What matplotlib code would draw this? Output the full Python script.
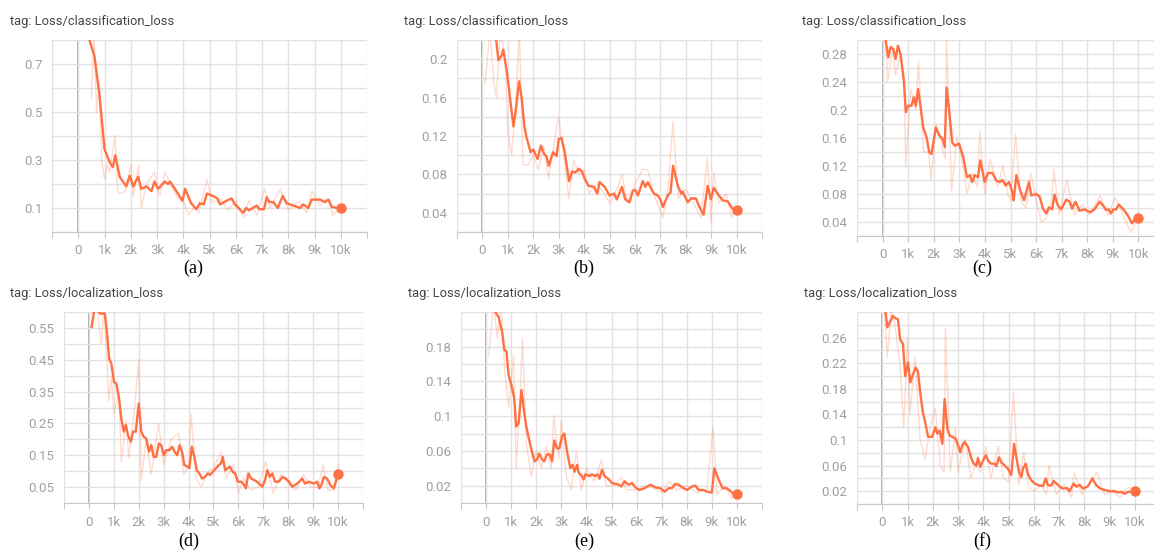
import matplotlib.pyplot as plt

ORANGE = '#ff7043'

# ---- (a) classification loss ----
a_x = [430, 620, 750, 810, 1000, 1200, 1320, 1410, 1580, 1830, 1960, 2090, 2280, 2400, 2600, 2790,
       2900, 3040, 3300, 3420, 3500, 3740, 3970, 4070, 4300, 4500, 4630, 4780, 4900, 5140, 5300,
       5400, 5650, 5840, 5970, 6280, 6400, 6500, 6800, 6900, 7080, 7180, 7280, 7430, 7600, 7790,
       7940, 8200, 8450, 8570, 8770, 8890, 9210, 9400, 9530, 9660, 9850, 10000]
a_y = [0.80, 0.73, 0.62, 0.57, 0.345, 0.29, 0.27, 0.32, 0.23, 0.19, 0.235, 0.19, 0.23, 0.18, 0.19,
       0.17, 0.21, 0.18, 0.21, 0.20, 0.21, 0.17, 0.13, 0.18, 0.12, 0.095, 0.12, 0.115, 0.16, 0.15,
       0.14, 0.115, 0.13, 0.14, 0.115, 0.08, 0.10, 0.09, 0.11, 0.095, 0.095, 0.145, 0.125, 0.125,
       0.10, 0.15, 0.12, 0.11, 0.10, 0.115, 0.10, 0.135, 0.135, 0.125, 0.135, 0.105, 0.10, 0.10]
a_raw_x = [500, 600, 700, 800, 900, 1000, 1100, 1200, 1400, 1500, 1600, 1800, 2000, 2100, 2300,
           2400, 2600, 2900, 3100, 3300, 3600, 3800, 4000, 4200, 4400, 4600, 4900, 5100, 5400,
           5700, 6000, 6300, 6500, 6800, 7100, 7300, 7700, 8000, 8400, 8700, 8900, 9200, 9500,
           9700, 10000]
a_raw_y = [0.56, 0.82, 0.50, 0.62, 0.30, 0.22, 0.28, 0.25, 0.40, 0.17, 0.16, 0.17, 0.28, 0.15,
           0.28, 0.10, 0.20, 0.25, 0.15, 0.25, 0.18, 0.14, 0.13, 0.07, 0.10, 0.08, 0.22, 0.12,
           0.14, 0.09, 0.13, 0.06, 0.13, 0.07, 0.18, 0.10, 0.18, 0.09, 0.13, 0.08, 0.17, 0.11,
           0.14, 0.07, 0.10]

# ---- (b) classification loss ----
b_x = [540, 630, 760, 820, 950, 1050, 1220, 1320, 1440, 1540, 1650, 1740, 1900, 2000, 2170, 2300,
       2430, 2520, 2610, 2780, 2920, 3000, 3110, 3240, 3410, 3530, 3660, 3790, 3920, 4030, 4180,
       4390, 4520, 4610, 4810, 5000, 5180, 5290, 5490, 5620, 5790, 5920, 6010, 6120, 6310, 6410,
       6510, 6640, 6750, 6900, 7000, 7100, 7290, 7400, 7500, 7690, 7820, 7880, 8080, 8210, 8400,
       8540, 8700, 8860, 8990, 9100, 9250, 9450, 9650, 9840, 10000]
b_y = [0.22, 0.199, 0.204, 0.21, 0.189, 0.168, 0.13, 0.148, 0.177, 0.161, 0.13, 0.118, 0.103,
       0.106, 0.096, 0.11, 0.101, 0.099, 0.089, 0.103, 0.099, 0.117, 0.118, 0.103, 0.073, 0.083,
       0.082, 0.086, 0.083, 0.075, 0.068, 0.067, 0.060, 0.072, 0.067, 0.058, 0.060, 0.054, 0.067,
       0.054, 0.051, 0.063, 0.064, 0.058, 0.073, 0.067, 0.072, 0.065, 0.060, 0.058, 0.054, 0.046,
       0.058, 0.061, 0.089, 0.068, 0.060, 0.062, 0.051, 0.055, 0.055, 0.046, 0.038, 0.068, 0.054,
       0.066, 0.060, 0.053, 0.052, 0.044, 0.043]
b_raw_x = [100, 300, 450, 550, 700, 900, 1000, 1150, 1300, 1450, 1600, 1800, 2000, 2200, 2400,
           2600, 2800, 3000, 3200, 3400, 3600, 3800, 4000, 4200, 4500, 4800, 5000, 5300, 5500,
           5700, 6000, 6300, 6500, 6800, 7100, 7300, 7500, 7700, 8000, 8300, 8600, 8850, 9000,
           9100, 9300, 9600, 9800, 10000]
b_raw_y = [0.175, 0.23, 0.175, 0.16, 0.23, 0.20, 0.125, 0.10, 0.15, 0.23, 0.09, 0.09, 0.10, 0.085,
           0.11, 0.075, 0.11, 0.14, 0.10, 0.055, 0.095, 0.08, 0.085, 0.06, 0.07, 0.06, 0.05, 0.065,
           0.08, 0.05, 0.07, 0.085, 0.085, 0.055, 0.035, 0.065, 0.135, 0.055, 0.065, 0.05, 0.035,
           0.097, 0.03, 0.082, 0.05, 0.06, 0.035, 0.045]

# ---- (c) classification loss ----
c_x = [120, 220, 310, 420, 510, 600, 700, 830, 910, 1000, 1130, 1220, 1300, 1390, 1590, 1720,
       1820, 1910, 2080, 2210, 2340, 2430, 2500, 2590, 2720, 2820, 2990, 3150, 3300, 3410, 3510,
       3600, 3730, 3820, 3990, 4120, 4290, 4450, 4580, 4680, 4810, 4940, 5070, 5120, 5230, 5380,
       5530, 5720, 5810, 6010, 6140, 6270, 6400, 6500, 6630, 6720, 6850, 6980, 7180, 7310, 7410,
       7540, 7700, 7890, 8110, 8280, 8480, 8610, 8740, 8840, 8930, 9020, 9130, 9230, 9390, 9540,
       9650, 9750, 9870, 10000]
c_y = [0.30, 0.275, 0.29, 0.287, 0.273, 0.292, 0.28, 0.242, 0.197, 0.206, 0.206, 0.218, 0.206,
       0.23, 0.175, 0.161, 0.14, 0.137, 0.175, 0.164, 0.159, 0.147, 0.232, 0.204, 0.154, 0.149,
       0.152, 0.133, 0.104, 0.107, 0.097, 0.107, 0.104, 0.128, 0.097, 0.11, 0.11, 0.099, 0.097,
       0.10, 0.092, 0.097, 0.083, 0.071, 0.107, 0.085, 0.071, 0.097, 0.078, 0.08, 0.076, 0.059,
       0.052, 0.061, 0.058, 0.079, 0.064, 0.058, 0.072, 0.069, 0.059, 0.069, 0.056, 0.058, 0.054,
       0.058, 0.069, 0.064, 0.057, 0.058, 0.052, 0.058, 0.058, 0.065, 0.059, 0.052, 0.045, 0.038,
       0.045, 0.046]
c_raw_x = [100, 200, 400, 500, 700, 850, 900, 1100, 1300, 1400, 1600, 1800, 1900, 2100, 2300, 2450,
           2500, 2700, 2900, 3100, 3300, 3500, 3700, 3800, 4000, 4200, 4500, 4700, 4900, 5000,
           5200, 5400, 5600, 5800, 6000, 6200, 6400, 6600, 6700, 6900, 7200, 7500, 7800, 8100,
           8500, 8800, 9100, 9400, 9700, 10000]
c_raw_y = [0.30, 0.24, 0.29, 0.25, 0.28, 0.24, 0.12, 0.23, 0.20, 0.27, 0.14, 0.14, 0.10, 0.18,
           0.15, 0.13, 0.30, 0.085, 0.16, 0.13, 0.08, 0.11, 0.09, 0.17, 0.08, 0.13, 0.09, 0.12,
           0.08, 0.07, 0.165, 0.07, 0.06, 0.11, 0.07, 0.04, 0.045, 0.07, 0.115, 0.05, 0.10, 0.05,
           0.065, 0.05, 0.078, 0.05, 0.075, 0.05, 0.025, 0.045]

# ---- (d) localization loss ----
d_x = [110, 240, 440, 640, 710, 810, 900, 1010, 1100, 1210, 1300, 1400, 1480, 1570, 1680, 1770,
       1880, 2000, 2100, 2200, 2300, 2410, 2500, 2600, 2700, 2810, 2900, 3010, 3100, 3240, 3340,
       3440, 3540, 3640, 3740, 3830, 3970, 4030, 4130, 4230, 4330, 4430, 4540, 4660, 4770, 4860,
       4970, 5100, 5210, 5300, 5370, 5470, 5570, 5660, 5770, 5870, 5980, 6100, 6190, 6300, 6400,
       6510, 6630, 6740, 6830, 6960, 7070, 7160, 7260, 7360, 7470, 7630, 7760, 7900, 8030, 8160,
       8360, 8560, 8670, 8830, 9030, 9160, 9250, 9330, 9430, 9560, 9690, 9830, 10000]
d_y = [0.553, 0.62, 0.595, 0.595, 0.548, 0.454, 0.438, 0.38, 0.375, 0.328, 0.265, 0.224, 0.245,
       0.213, 0.192, 0.224, 0.224, 0.313, 0.224, 0.208, 0.203, 0.161, 0.182, 0.145, 0.145, 0.187,
       0.182, 0.15, 0.166, 0.166, 0.177, 0.161, 0.15, 0.182, 0.161, 0.119, 0.114, 0.109, 0.177,
       0.145, 0.103, 0.093, 0.077, 0.082, 0.093, 0.088, 0.098, 0.109, 0.119, 0.124, 0.145, 0.103,
       0.109, 0.114, 0.098, 0.093, 0.067, 0.067, 0.061, 0.046, 0.093, 0.077, 0.072, 0.067, 0.061,
       0.051, 0.072, 0.103, 0.082, 0.093, 0.067, 0.067, 0.082, 0.077, 0.067, 0.051, 0.061, 0.077,
       0.061, 0.067, 0.061, 0.067, 0.046, 0.056, 0.082, 0.077, 0.056, 0.046, 0.091]
d_raw_x = [100, 300, 500, 600, 800, 900, 1000, 1200, 1300, 1500, 1600, 1800, 2000, 2100, 2300,
           2500, 2800, 3000, 3300, 3600, 3800, 4000, 4100, 4300, 4500, 4800, 5000, 5300, 5500,
           5800, 6000, 6200, 6500, 6800, 7100, 7400, 7700, 8000, 8300, 8600, 8900, 9200, 9400,
           9600, 9800, 10000]
d_raw_y = [0.60, 0.62, 0.50, 0.62, 0.32, 0.40, 0.28, 0.35, 0.13, 0.26, 0.14, 0.27, 0.45, 0.07,
           0.20, 0.09, 0.25, 0.12, 0.20, 0.22, 0.09, 0.12, 0.28, 0.08, 0.05, 0.10, 0.11, 0.16,
           0.08, 0.12, 0.03, 0.08, 0.04, 0.05, 0.13, 0.03, 0.09, 0.06, 0.04, 0.09, 0.05, 0.05,
           0.12, 0.04, 0.04, 0.12]

# ---- (e) localization loss ----
e_x = [370, 500, 640, 730, 810, 900, 1010, 1120, 1200, 1300, 1410, 1500, 1590, 1700, 1810, 1930,
       2030, 2120, 2230, 2320, 2430, 2540, 2630, 2720, 2830, 2920, 3030, 3120, 3230, 3360, 3450,
       3530, 3630, 3690, 3820, 3890, 3960, 4120, 4220, 4330, 4450, 4520, 4620, 4730, 4860, 5020,
       5150, 5290, 5390, 5520, 5680, 5820, 5950, 6110, 6320, 6550, 6750, 6950, 7120, 7280, 7410,
       7540, 7680, 7880, 8010, 8210, 8350, 8470, 8670, 8800, 9000, 9100, 9270, 9430, 9600, 9770,
       9870, 10000]
e_y = [0.22, 0.214, 0.197, 0.176, 0.175, 0.147, 0.136, 0.121, 0.088, 0.092, 0.13, 0.109, 0.09,
       0.075, 0.061, 0.048, 0.05, 0.057, 0.05, 0.048, 0.056, 0.056, 0.048, 0.072, 0.063, 0.063,
       0.077, 0.08, 0.059, 0.04, 0.044, 0.036, 0.044, 0.035, 0.031, 0.027, 0.033, 0.031, 0.033,
       0.031, 0.033, 0.028, 0.038, 0.031, 0.028, 0.023, 0.022, 0.021, 0.019, 0.025, 0.021, 0.023,
       0.018, 0.015, 0.017, 0.021, 0.018, 0.017, 0.013, 0.017, 0.017, 0.022, 0.021, 0.017, 0.015,
       0.019, 0.020, 0.015, 0.015, 0.013, 0.012, 0.040, 0.027, 0.017, 0.017, 0.013, 0.010, 0.010]
e_raw_x = [100, 300, 450, 600, 750, 900, 1100, 1200, 1350, 1450, 1600, 1800, 2000, 2200, 2400,
           2600, 2700, 2900, 3000, 3200, 3400, 3600, 3800, 4000, 4300, 4500, 4600, 4800, 5100,
           5400, 5600, 6000, 6300, 6600, 7000, 7300, 7600, 8000, 8400, 8800, 9050, 9200, 9500,
           9800, 10000]
e_raw_y = [0.17, 0.23, 0.19, 0.23, 0.15, 0.11, 0.17, 0.04, 0.12, 0.19, 0.07, 0.03, 0.06, 0.04,
           0.065, 0.04, 0.10, 0.05, 0.095, 0.03, 0.015, 0.06, 0.015, 0.04, 0.025, 0.04, 0.05, 0.02,
           0.02, 0.03, 0.015, 0.015, 0.02, 0.018, 0.012, 0.025, 0.015, 0.02, 0.012, 0.015, 0.087,
           0.01, 0.02, 0.005, 0.012]

# ---- (f) localization loss ----
f_x = [130, 200, 290, 420, 530, 620, 710, 820, 910, 1020, 1110, 1220, 1320, 1410, 1510, 1610,
       1700, 1810, 1980, 2100, 2180, 2270, 2380, 2470, 2580, 2670, 2770, 2910, 3000, 3090, 3170,
       3260, 3400, 3530, 3620, 3730, 3790, 3880, 3990, 4100, 4190, 4320, 4450, 4520, 4620, 4720,
       4850, 4980, 5110, 5220, 5310, 5420, 5510, 5570, 5680, 5770, 5900, 6040, 6210, 6370, 6470,
       6570, 6700, 6790, 6900, 7030, 7160, 7320, 7420, 7580, 7690, 7820, 7950, 8150, 8320, 8480,
       8640, 8810, 9010, 9210, 9340, 9470, 9600, 9740, 9870, 10000]
f_y = [0.30, 0.276, 0.283, 0.294, 0.29, 0.289, 0.257, 0.25, 0.20, 0.221, 0.19, 0.203, 0.213,
       0.208, 0.172, 0.143, 0.128, 0.105, 0.105, 0.12, 0.11, 0.115, 0.094, 0.164, 0.117, 0.107,
       0.105, 0.102, 0.092, 0.081, 0.092, 0.097, 0.089, 0.071, 0.063, 0.06, 0.072, 0.058, 0.068,
       0.076, 0.068, 0.063, 0.063, 0.059, 0.073, 0.065, 0.06, 0.055, 0.045, 0.094, 0.073, 0.05,
       0.042, 0.055, 0.063, 0.047, 0.037, 0.032, 0.029, 0.028, 0.04, 0.029, 0.029, 0.036, 0.032,
       0.027, 0.024, 0.025, 0.02, 0.032, 0.027, 0.03, 0.024, 0.028, 0.04, 0.029, 0.024, 0.022,
       0.02, 0.02, 0.018, 0.019, 0.016, 0.019, 0.019, 0.02]
f_raw_x = [100, 200, 350, 500, 700, 850, 1000, 1100, 1300, 1500, 1700, 1900, 2100, 2300, 2450,
           2500, 2700, 2900, 3000, 3300, 3500, 3700, 3900, 4100, 4300, 4600, 4800, 5000, 5200,
           5400, 5600, 5800, 6000, 6300, 6500, 6600, 6900, 7200, 7500, 7600, 7900, 8200, 8500,
           8800, 9100, 9400, 9700, 10000]
f_raw_y = [0.30, 0.23, 0.30, 0.28, 0.22, 0.12, 0.26, 0.14, 0.23, 0.10, 0.07, 0.12, 0.15, 0.06,
           0.05, 0.275, 0.05, 0.12, 0.05, 0.10, 0.04, 0.06, 0.05, 0.09, 0.04, 0.09, 0.04, 0.035,
           0.175, 0.03, 0.08, 0.025, 0.02, 0.03, 0.015, 0.06, 0.015, 0.03, 0.01, 0.05, 0.015, 0.03,
           0.05, 0.015, 0.02, 0.01, 0.025, 0.025]

# panel setup: (x, y, raw x, raw y, ylim, grid step, labelled ticks, title, caption)
CLS = 'tag: Loss/classification_loss'
LOC = 'tag: Loss/localization_loss'
panels = [
    (a_x, a_y, a_raw_x, a_raw_y, (0, 0.8), 0.1, [0.1, 0.3, 0.5, 0.7], CLS, '(a)'),
    (b_x, b_y, b_raw_x, b_raw_y, (0.02, 0.22), 0.02, [0.04, 0.08, 0.12, 0.16, 0.2], CLS, '(b)'),
    (c_x, c_y, c_raw_x, c_raw_y, (0.02, 0.30), 0.02,
     [0.04, 0.08, 0.12, 0.16, 0.2, 0.24, 0.28], CLS, '(c)'),
    (d_x, d_y, d_raw_x, d_raw_y, (0, 0.6), 0.05,
     [0.05, 0.15, 0.25, 0.35, 0.45, 0.55], LOC, '(d)'),
    (e_x, e_y, e_raw_x, e_raw_y, (0, 0.22), 0.02, [0.02, 0.06, 0.1, 0.14, 0.18], LOC, '(e)'),
    (f_x, f_y, f_raw_x, f_raw_y, (0, 0.30), 0.02,
     [0.02, 0.06, 0.1, 0.14, 0.18, 0.22, 0.26], LOC, '(f)'),
]

# axes rectangles in pixels (left, top, right, bottom), title and caption positions
W, H = 1154, 552
boxes = [(52, 40, 367, 232), (457, 40, 762, 232), (857, 40, 1164, 236),
         (64, 312, 363, 503), (461, 312, 762, 503), (857, 312, 1160, 504)]
title_pos = [(10, 22), (404, 22), (802, 21), (10, 293), (408, 293), (804, 293)]
caption_pos = [(193, 268), (584, 268), (982, 268), (189, 541), (584, 541), (982, 541)]

fig = plt.figure(figsize=(W / 100, H / 100), dpi=100)

for i, (xs, ys, rx, ry, ylim, step, labelled, title, cap) in enumerate(panels):
    l, t, r, b = boxes[i]
    ax = fig.add_axes([l / W, 1 - b / H, (r - l) / W, (b - t) / H])
    ax.plot(rx, ry, color=ORANGE, lw=1.0, alpha=0.25, zorder=2)
    ax.plot(xs, ys, color=ORANGE, lw=1.7, zorder=3)
    ax.plot(xs[-1], ys[-1], 'o', color=ORANGE, ms=6.5, zorder=4)
    ax.axvline(0, color='#9a9a9a', lw=1.2, zorder=1)

    ax.set_xlim(-1000, 11000)
    ax.set_ylim(*ylim)
    xt = list(range(-1000, 11001, 1000))
    ax.set_xticks(xt)
    ax.set_xticklabels(['' if v < 0 or v > 10000 else ('0' if v == 0 else f'{v // 1000}k')
                        for v in xt])
    n = int(round((ylim[1] - ylim[0]) / step))
    yt = [ylim[0] + k * step for k in range(n + 1)]
    ylabels = []
    for v in yt:
        if any(abs(v - s) < 1e-6 for s in labelled):
            ylabels.append(f'{v:.2f}'.rstrip('0').rstrip('.'))
        else:
            ylabels.append('')
    ax.set_yticks(yt)
    ax.set_yticklabels(ylabels)

    ax.grid(True, color='#e2e2e2', lw=1.0, zorder=0)
    for s in ['top', 'right', 'left']:
        ax.spines[s].set_visible(False)
    ax.spines['bottom'].set_color('#c8c8c8')
    ax.tick_params(axis='x', length=4, color='#c8c8c8', labelcolor='#a0a0a0',
                   labelsize=9.5, pad=5)
    ax.tick_params(axis='y', length=0, labelcolor='#a0a0a0', labelsize=9.5, pad=7)
    for lab in ax.get_xticklabels() + ax.get_yticklabels():
        lab.set_family('Roboto')

    tx, ty = title_pos[i]
    fig.text(tx / W, 1 - ty / H, title, family='Roboto', fontsize=9.3, color='#444444',
             ha='left', va='center')
    cx, cy = caption_pos[i]
    fig.text(cx / W, 1 - cy / H, cap, family='Liberation Serif', fontsize=13,
             color='black', ha='center', va='center')

fig.savefig('out.png', dpi=100, facecolor='white')
